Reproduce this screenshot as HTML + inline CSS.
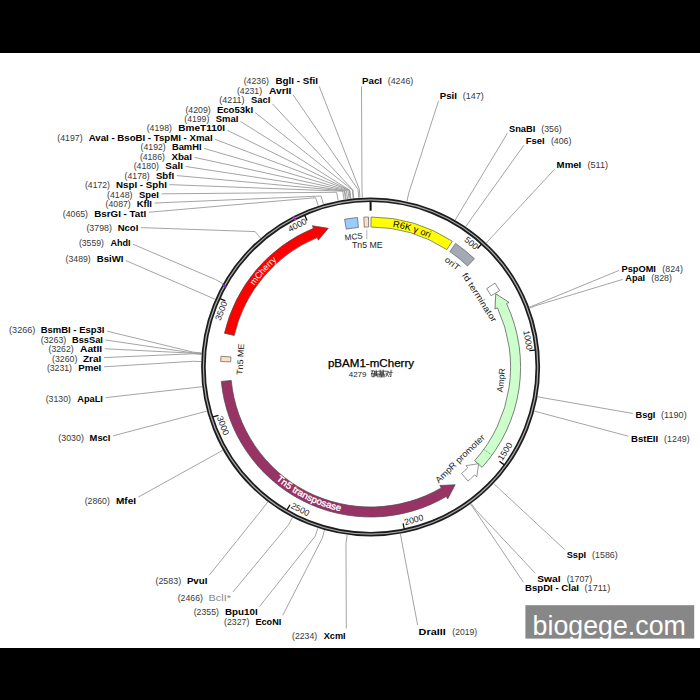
<!DOCTYPE html>
<html><head><meta charset="utf-8"><title>pBAM1-mCherry</title><style>html,body{margin:0;padding:0;background:#fff;}svg{display:block;}text{font-family:"Liberation Sans",sans-serif;}</style></head><body>
<svg width="700" height="700" viewBox="0 0 700 700" font-family="Liberation Sans, sans-serif">
<rect x="0" y="0" width="700" height="700" fill="#fff"/>
<path d="M319.21,86.29 L359.37,189.35 L359.90,197.74 M293.11,94.95 L358.06,189.44 L358.66,197.82 M272.35,103.79 L352.86,189.89 L353.69,198.24 M255.25,112.63 L352.34,189.94 L353.20,198.30 M240.58,121.47 L349.74,190.23 L350.72,198.57 M227.49,130.39 L349.48,190.26 L350.48,198.60 M215.06,139.35 L349.22,190.29 L350.23,198.63 M204.12,148.38 L347.92,190.45 L348.99,198.78 M194.55,157.36 L346.37,190.66 L347.51,198.98 M185.48,166.46 L344.82,190.88 L346.03,199.19 M176.79,175.58 L344.30,190.95 L345.54,199.26 M169.50,184.64 L342.75,191.19 L344.06,199.49 M161.50,193.84 L336.57,192.28 L338.18,200.53 M154.60,203.03 L321.08,196.03 L323.42,204.10 M148.89,212.25 L315.58,197.72 L318.18,205.70 M140.90,227.62 L255.08,231.58 L260.53,237.97 M133.03,244.22 L215.56,279.55 L222.88,283.68 M125.82,260.55 L207.41,295.92 L215.11,299.27 M107.04,331.13 L193.22,352.18 L201.59,352.88 M105.48,339.95 L193.15,352.97 L201.53,353.63 M104.80,348.73 L193.13,353.23 L201.51,353.88 M103.90,357.62 L193.09,353.75 L201.47,354.37 M103.90,366.80 L192.69,361.32 L201.09,361.58 M105.49,397.67 L193.80,387.67 L202.15,386.69 M112.93,435.86 L198.73,413.31 L206.84,411.13 M138.43,497.00 L215.50,454.33 L222.82,450.21 M209.22,575.29 L262.70,508.57 L267.80,501.89 M232.85,592.06 L288.49,524.93 L292.37,517.48 M259.51,606.57 L315.21,536.16 L317.82,528.18 M282.79,615.25 L322.21,538.30 L324.49,530.21 M346.31,628.60 L345.98,543.29 L347.14,534.97 M417.63,625.01 L401.93,542.22 L400.45,533.95 M361.50,86.60 L361.98,189.21 L362.39,197.60 M438.60,100.71 L408.72,193.13 L406.92,201.34 M507.39,133.25 L459.47,212.77 L455.27,220.05 M523.96,145.10 L470.54,219.71 L465.83,226.66 M554.67,169.12 L491.98,236.80 L486.25,242.94 M619.16,270.35 L537.14,304.15 L529.28,307.12 M622.79,279.36 L537.50,305.13 L529.63,308.05 M632.93,413.49 L545.83,398.27 L537.56,396.79 M628.47,436.24 L542.47,413.31 L534.36,411.13 M564.66,549.59 L499.86,489.38 L493.76,483.60 M535.36,573.30 L476.20,510.30 L471.21,503.53 M523.41,582.30 L475.35,510.91 L470.41,504.12" fill="none" stroke="#9a9a9a" stroke-width="0.9"/>
<circle cx="370.6" cy="367.0" r="167.2" fill="none" stroke="#1c1c1c" stroke-width="4.6"/>
<circle cx="370.6" cy="367.0" r="167.2" fill="none" stroke="#ababab" stroke-width="1.2"/>
<path d="M295.48,220.20 L293.39,216.11" stroke="#e010e0" stroke-width="1.6"/>
<path d="M226.38,287.05 L222.35,284.82" stroke="#7a28d8" stroke-width="1.6"/>
<path d="M370.60,201.70 L370.60,210.70" stroke="#111" stroke-width="2"/>
<path d="M481.35,244.29 L477.53,248.52 M535.03,350.10 L529.36,350.68 M503.99,464.62 L499.39,461.26 M404.22,528.84 L403.06,523.26 M287.13,509.68 L290.01,504.76 M213.04,416.99 L218.47,415.27 M220.14,298.55 L225.33,300.91 M304.76,215.38 L307.03,220.61" stroke="#111" stroke-width="1.3"/>
<text transform="translate(471.40,243.00) rotate(39.11)" x="0" y="3.13" font-size="8.7" fill="#222" text-anchor="middle" textLength="14.70" lengthAdjust="spacingAndGlyphs">500</text>
<text transform="translate(528.11,340.06) rotate(80.30)" x="0" y="3.13" font-size="8.7" fill="#222" text-anchor="middle" textLength="19.60" lengthAdjust="spacingAndGlyphs">1000</text>
<text transform="translate(504.88,451.40) rotate(-57.85)" x="0" y="3.13" font-size="8.7" fill="#222" text-anchor="middle" textLength="19.60" lengthAdjust="spacingAndGlyphs">1500</text>
<text transform="translate(413.74,519.62) rotate(-15.78)" x="0" y="3.13" font-size="8.7" fill="#222" text-anchor="middle" textLength="19.60" lengthAdjust="spacingAndGlyphs">2000</text>
<text transform="translate(300.37,509.20) rotate(26.28)" x="0" y="3.13" font-size="8.7" fill="#222" text-anchor="middle" textLength="19.60" lengthAdjust="spacingAndGlyphs">2500</text>
<text transform="translate(223.19,425.51) rotate(68.35)" x="0" y="3.13" font-size="8.7" fill="#222" text-anchor="middle" textLength="19.60" lengthAdjust="spacingAndGlyphs">3000</text>
<text transform="translate(221.04,310.71) rotate(290.62)" x="0" y="3.13" font-size="8.7" fill="#222" text-anchor="middle" textLength="19.60" lengthAdjust="spacingAndGlyphs">3500</text>
<text transform="translate(297.28,225.01) rotate(332.69)" x="0" y="3.13" font-size="8.7" fill="#222" text-anchor="middle" textLength="19.60" lengthAdjust="spacingAndGlyphs">4000</text>
<path d="M371.02,217.00 A150.00,150.00 0 0 1 452.30,241.20 L446.85,249.59 A140.00,140.00 0 0 0 370.99,227.00 Z" fill="#ffff00" stroke="#5a5a5a" stroke-width="0.7"/>
<path d="M455.56,243.38 A150.00,150.00 0 0 1 474.42,258.74 L467.50,265.95 A140.00,140.00 0 0 0 449.90,251.62 Z" fill="#a4aab3" stroke="#5a5a5a" stroke-width="0.7"/>
<path d="M494.96,283.12 A150.00,150.00 0 0 1 499.71,290.64 L491.10,295.73 A140.00,140.00 0 0 0 486.67,288.71 Z" fill="#ffffff" stroke="#5a5a5a" stroke-width="0.7"/>
<path d="M482.07,467.37 A150.00,150.00 0 0 0 506.55,303.61 L509.08,302.42 L495.79,293.84 L494.95,309.02 L497.48,307.83 A140.00,140.00 0 0 1 474.64,460.68 Z" fill="#ccffcc" stroke="#4a4a4a" stroke-width="0.7" stroke-linejoin="miter"/>
<path d="M484.35,449.64 L491.47,454.82" stroke="#555" stroke-width="0.7" stroke-dasharray="1,1"/>
<path d="M468.02,481.06 A150.00,150.00 0 0 0 474.80,474.90 L476.74,476.92 L478.69,463.65 L465.91,465.69 L467.85,467.71 A140.00,140.00 0 0 1 461.52,473.46 Z" fill="#ffffff" stroke="#6a6a6a" stroke-width="0.7" stroke-linejoin="miter"/>
<path d="M221.29,381.38 A150.00,150.00 0 0 0 446.28,496.51 L447.69,498.93 L455.21,484.75 L439.82,485.46 L441.23,487.88 A140.00,140.00 0 0 1 231.24,380.42 Z" fill="#993366" stroke="#4a4a4a" stroke-width="0.7" stroke-linejoin="miter"/>
<path d="M220.70,361.50 A150.00,150.00 0 0 1 220.98,356.28 L230.96,356.99 A140.00,140.00 0 0 0 230.69,361.87 Z" fill="#fde0c0" stroke="#5a5a5a" stroke-width="0.7"/>
<path d="M224.44,333.26 A150.00,150.00 0 0 1 313.44,228.32 L312.37,225.73 L328.30,228.31 L318.32,240.15 L317.25,237.56 A140.00,140.00 0 0 0 234.19,335.51 Z" fill="#ff0000" stroke="#4a4a4a" stroke-width="0.7" stroke-linejoin="miter"/>
<path d="M344.55,219.28 A150.00,150.00 0 0 1 357.53,217.57 L358.40,227.53 A140.00,140.00 0 0 0 346.29,229.13 Z" fill="#99ccff" stroke="#5a5a5a" stroke-width="0.7"/>
<path d="M363.80,217.15 A150.00,150.00 0 0 1 368.51,217.01 L368.65,227.01 A140.00,140.00 0 0 0 364.25,227.14 Z" fill="#fde0c0" stroke="#5a5a5a" stroke-width="0.7"/>
<path d="M366.8,229.6 L366.8,239.4" stroke="#b0b0b0" stroke-width="0.9"/>
<text transform="translate(353.65,236.50) rotate(-6.60)" x="0" y="2.99" font-size="8.3" fill="#222" text-anchor="middle" textLength="18.00" lengthAdjust="spacingAndGlyphs">MCS</text>
<text x="352.00" y="248.20" font-size="8.3" fill="#222" text-anchor="start" textLength="30.60" lengthAdjust="spacingAndGlyphs">Tn5 ME</text>
<text transform="translate(452.41,263.41) rotate(38.30)" x="0" y="3.10" font-size="8.6" fill="#222" text-anchor="middle" textLength="16.80" lengthAdjust="spacingAndGlyphs">oriT</text>
<text transform="translate(479.61,297.28) rotate(57.40)" x="0" y="3.10" font-size="8.6" fill="#222" text-anchor="middle" textLength="56.50" lengthAdjust="spacingAndGlyphs">fd terminator</text>
<text transform="translate(500.93,380.24) rotate(-84.20)" x="0" y="3.10" font-size="8.6" fill="#222" text-anchor="middle" textLength="24.00" lengthAdjust="spacingAndGlyphs">AmpR</text>
<text transform="translate(459.86,458.47) rotate(-44.30)" x="0" y="3.17" font-size="8.8" fill="#222" text-anchor="middle" textLength="65.00" lengthAdjust="spacingAndGlyphs">AmpR promoter</text>
<text transform="translate(240.23,359.25) rotate(-86.60)" x="0" y="2.99" font-size="8.3" fill="#222" text-anchor="middle" textLength="31.00" lengthAdjust="spacingAndGlyphs">Tn5 ME</text>
<path id="p36" d="M377.83,225.38 A141.80,141.80 0 0 1 442.52,244.79" fill="none"/>
<text font-size="9" fill="#000"><textPath href="#p36" startOffset="50%" text-anchor="middle" textLength="38.5" lengthAdjust="spacingAndGlyphs">R6K γ ori</textPath></text>
<path id="p38" d="M246.50,298.40 A141.80,141.80 0 0 1 288.60,251.32" fill="none"/>
<text font-size="9" fill="#fff"><textPath href="#p38" startOffset="50%" text-anchor="middle" textLength="34.0" lengthAdjust="spacingAndGlyphs">mCherry</textPath></text>
<path id="p40" d="M264.70,469.24 A147.20,147.20 0 0 0 355.75,513.45" fill="none"/>
<text font-size="9.4" fill="#fff" stroke="#fff" stroke-width="0.3"><textPath href="#p40" startOffset="50%" text-anchor="middle" textLength="72.5" lengthAdjust="spacingAndGlyphs">Tn5 transposase</textPath></text>
<text x="243.70" y="84.30" font-size="8.2" fill="#383838" text-anchor="start" textLength="25.20" lengthAdjust="spacingAndGlyphs">(4236)</text>
<text x="275.50" y="84.30" font-size="8.6" font-weight="bold" fill="#000" text-anchor="start" textLength="42.40" lengthAdjust="spacingAndGlyphs">BglI - SfiI</text>
<text x="236.90" y="93.60" font-size="8.2" fill="#383838" text-anchor="start" textLength="25.20" lengthAdjust="spacingAndGlyphs">(4231)</text>
<text x="268.90" y="93.60" font-size="8.6" font-weight="bold" fill="#000" text-anchor="start" textLength="22.50" lengthAdjust="spacingAndGlyphs">AvrII</text>
<text x="219.30" y="103.00" font-size="8.2" fill="#383838" text-anchor="start" textLength="25.30" lengthAdjust="spacingAndGlyphs">(4211)</text>
<text x="251.00" y="103.00" font-size="8.6" font-weight="bold" fill="#000" text-anchor="start" textLength="19.40" lengthAdjust="spacingAndGlyphs">SacI</text>
<text x="185.40" y="112.50" font-size="8.2" fill="#383838" text-anchor="start" textLength="25.30" lengthAdjust="spacingAndGlyphs">(4209)</text>
<text x="216.90" y="112.50" font-size="8.6" font-weight="bold" fill="#000" text-anchor="start" textLength="36.20" lengthAdjust="spacingAndGlyphs">Eco53kI</text>
<text x="184.30" y="121.90" font-size="8.2" fill="#383838" text-anchor="start" textLength="25.00" lengthAdjust="spacingAndGlyphs">(4199)</text>
<text x="215.70" y="121.90" font-size="8.6" font-weight="bold" fill="#000" text-anchor="start" textLength="22.60" lengthAdjust="spacingAndGlyphs">SmaI</text>
<text x="146.70" y="131.40" font-size="8.2" fill="#383838" text-anchor="start" textLength="25.20" lengthAdjust="spacingAndGlyphs">(4198)</text>
<text x="178.30" y="131.40" font-size="8.6" font-weight="bold" fill="#000" text-anchor="start" textLength="46.80" lengthAdjust="spacingAndGlyphs">BmeT110I</text>
<text x="57.30" y="140.90" font-size="8.2" fill="#383838" text-anchor="start" textLength="25.30" lengthAdjust="spacingAndGlyphs">(4197)</text>
<text x="88.70" y="140.90" font-size="8.6" font-weight="bold" fill="#000" text-anchor="start" textLength="123.90" lengthAdjust="spacingAndGlyphs">AvaI - BsoBI - TspMI - XmaI</text>
<text x="140.60" y="150.40" font-size="8.2" fill="#383838" text-anchor="start" textLength="25.10" lengthAdjust="spacingAndGlyphs">(4192)</text>
<text x="171.90" y="150.40" font-size="8.6" font-weight="bold" fill="#000" text-anchor="start" textLength="29.70" lengthAdjust="spacingAndGlyphs">BamHI</text>
<text x="139.90" y="159.80" font-size="8.2" fill="#383838" text-anchor="start" textLength="24.90" lengthAdjust="spacingAndGlyphs">(4186)</text>
<text x="171.40" y="159.80" font-size="8.6" font-weight="bold" fill="#000" text-anchor="start" textLength="20.60" lengthAdjust="spacingAndGlyphs">XbaI</text>
<text x="133.70" y="169.30" font-size="8.2" fill="#383838" text-anchor="start" textLength="25.20" lengthAdjust="spacingAndGlyphs">(4180)</text>
<text x="165.30" y="169.30" font-size="8.6" font-weight="bold" fill="#000" text-anchor="start" textLength="17.60" lengthAdjust="spacingAndGlyphs">SalI</text>
<text x="124.60" y="178.80" font-size="8.2" fill="#383838" text-anchor="start" textLength="25.10" lengthAdjust="spacingAndGlyphs">(4178)</text>
<text x="155.90" y="178.80" font-size="8.6" font-weight="bold" fill="#000" text-anchor="start" textLength="18.30" lengthAdjust="spacingAndGlyphs">SbfI</text>
<text x="85.00" y="188.20" font-size="8.2" fill="#383838" text-anchor="start" textLength="24.90" lengthAdjust="spacingAndGlyphs">(4172)</text>
<text x="116.10" y="188.20" font-size="8.6" font-weight="bold" fill="#000" text-anchor="start" textLength="50.80" lengthAdjust="spacingAndGlyphs">NspI - SphI</text>
<text x="107.00" y="197.70" font-size="8.2" fill="#383838" text-anchor="start" textLength="25.50" lengthAdjust="spacingAndGlyphs">(4148)</text>
<text x="139.00" y="197.70" font-size="8.6" font-weight="bold" fill="#000" text-anchor="start" textLength="19.90" lengthAdjust="spacingAndGlyphs">SpeI</text>
<text x="105.60" y="207.10" font-size="8.2" fill="#383838" text-anchor="start" textLength="25.10" lengthAdjust="spacingAndGlyphs">(4087)</text>
<text x="136.70" y="207.10" font-size="8.6" font-weight="bold" fill="#000" text-anchor="start" textLength="15.30" lengthAdjust="spacingAndGlyphs">KflI</text>
<text x="62.80" y="216.60" font-size="8.2" fill="#383838" text-anchor="start" textLength="25.20" lengthAdjust="spacingAndGlyphs">(4065)</text>
<text x="94.20" y="216.60" font-size="8.6" font-weight="bold" fill="#000" text-anchor="start" textLength="52.10" lengthAdjust="spacingAndGlyphs">BsrGI - TatI</text>
<text x="86.40" y="231.20" font-size="8.2" fill="#383838" text-anchor="start" textLength="25.50" lengthAdjust="spacingAndGlyphs">(3798)</text>
<text x="117.70" y="231.20" font-size="8.6" font-weight="bold" fill="#000" text-anchor="start" textLength="20.60" lengthAdjust="spacingAndGlyphs">NcoI</text>
<text x="78.90" y="245.50" font-size="8.2" fill="#383838" text-anchor="start" textLength="25.10" lengthAdjust="spacingAndGlyphs">(3559)</text>
<text x="110.40" y="245.50" font-size="8.6" font-weight="bold" fill="#000" text-anchor="start" textLength="20.20" lengthAdjust="spacingAndGlyphs">AhdI</text>
<text x="65.60" y="261.80" font-size="8.2" fill="#383838" text-anchor="start" textLength="25.10" lengthAdjust="spacingAndGlyphs">(3489)</text>
<text x="96.70" y="261.80" font-size="8.6" font-weight="bold" fill="#000" text-anchor="start" textLength="26.70" lengthAdjust="spacingAndGlyphs">BsiWI</text>
<text x="9.10" y="333.40" font-size="8.2" fill="#383838" text-anchor="start" textLength="26.30" lengthAdjust="spacingAndGlyphs">(3266)</text>
<text x="40.70" y="333.40" font-size="8.6" font-weight="bold" fill="#000" text-anchor="start" textLength="63.80" lengthAdjust="spacingAndGlyphs">BsmBI - Esp3I</text>
<text x="40.70" y="342.80" font-size="8.2" fill="#383838" text-anchor="start" textLength="25.60" lengthAdjust="spacingAndGlyphs">(3263)</text>
<text x="72.00" y="342.80" font-size="8.6" font-weight="bold" fill="#000" text-anchor="start" textLength="30.90" lengthAdjust="spacingAndGlyphs">BssSaI</text>
<text x="48.50" y="352.20" font-size="8.2" fill="#383838" text-anchor="start" textLength="25.10" lengthAdjust="spacingAndGlyphs">(3262)</text>
<text x="80.00" y="352.20" font-size="8.6" font-weight="bold" fill="#000" text-anchor="start" textLength="22.20" lengthAdjust="spacingAndGlyphs">AatII</text>
<text x="52.10" y="361.70" font-size="8.2" fill="#383838" text-anchor="start" textLength="25.20" lengthAdjust="spacingAndGlyphs">(3260)</text>
<text x="83.00" y="361.70" font-size="8.6" font-weight="bold" fill="#000" text-anchor="start" textLength="18.30" lengthAdjust="spacingAndGlyphs">ZraI</text>
<text x="46.90" y="371.00" font-size="8.2" fill="#383838" text-anchor="start" textLength="25.10" lengthAdjust="spacingAndGlyphs">(3231)</text>
<text x="78.20" y="371.00" font-size="8.6" font-weight="bold" fill="#000" text-anchor="start" textLength="23.10" lengthAdjust="spacingAndGlyphs">PmeI</text>
<text x="45.70" y="402.20" font-size="8.2" fill="#383838" text-anchor="start" textLength="25.20" lengthAdjust="spacingAndGlyphs">(3130)</text>
<text x="77.30" y="402.20" font-size="8.6" font-weight="bold" fill="#000" text-anchor="start" textLength="25.60" lengthAdjust="spacingAndGlyphs">ApaLI</text>
<text x="58.30" y="441.30" font-size="8.2" fill="#383838" text-anchor="start" textLength="25.60" lengthAdjust="spacingAndGlyphs">(3030)</text>
<text x="89.60" y="441.30" font-size="8.6" font-weight="bold" fill="#000" text-anchor="start" textLength="20.80" lengthAdjust="spacingAndGlyphs">MscI</text>
<text x="84.70" y="503.90" font-size="8.2" fill="#383838" text-anchor="start" textLength="25.10" lengthAdjust="spacingAndGlyphs">(2860)</text>
<text x="116.00" y="503.90" font-size="8.6" font-weight="bold" fill="#000" text-anchor="start" textLength="20.10" lengthAdjust="spacingAndGlyphs">MfeI</text>
<text x="155.50" y="584.00" font-size="8.2" fill="#383838" text-anchor="start" textLength="25.60" lengthAdjust="spacingAndGlyphs">(2583)</text>
<text x="186.90" y="584.00" font-size="8.6" font-weight="bold" fill="#000" text-anchor="start" textLength="20.50" lengthAdjust="spacingAndGlyphs">PvuI</text>
<text x="177.70" y="600.70" font-size="8.2" fill="#383838" text-anchor="start" textLength="25.20" lengthAdjust="spacingAndGlyphs">(2466)</text>
<text x="208.60" y="600.70" font-size="8.6" fill="#888" text-anchor="start" textLength="22.40" lengthAdjust="spacingAndGlyphs">BclI*</text>
<text x="193.70" y="615.30" font-size="8.2" fill="#383838" text-anchor="start" textLength="25.20" lengthAdjust="spacingAndGlyphs">(2355)</text>
<text x="225.00" y="615.30" font-size="8.6" font-weight="bold" fill="#000" text-anchor="start" textLength="32.70" lengthAdjust="spacingAndGlyphs">Bpu10I</text>
<text x="224.10" y="624.60" font-size="8.2" fill="#383838" text-anchor="start" textLength="25.20" lengthAdjust="spacingAndGlyphs">(2327)</text>
<text x="255.40" y="624.60" font-size="8.6" font-weight="bold" fill="#000" text-anchor="start" textLength="25.90" lengthAdjust="spacingAndGlyphs">EcoNI</text>
<text x="292.00" y="638.60" font-size="8.2" fill="#383838" text-anchor="start" textLength="25.10" lengthAdjust="spacingAndGlyphs">(2234)</text>
<text x="323.70" y="638.60" font-size="8.6" font-weight="bold" fill="#000" text-anchor="start" textLength="22.00" lengthAdjust="spacingAndGlyphs">XcmI</text>
<text x="418.60" y="634.90" font-size="8.6" font-weight="bold" fill="#000" text-anchor="start" textLength="27.10" lengthAdjust="spacingAndGlyphs">DraIII</text>
<text x="452.30" y="634.90" font-size="8.2" fill="#383838" text-anchor="start" textLength="24.80" lengthAdjust="spacingAndGlyphs">(2019)</text>
<text x="362.10" y="84.20" font-size="8.6" font-weight="bold" fill="#000" text-anchor="start" textLength="19.90" lengthAdjust="spacingAndGlyphs">PacI</text>
<text x="387.70" y="84.20" font-size="8.2" fill="#383838" text-anchor="start" textLength="25.60" lengthAdjust="spacingAndGlyphs">(4246)</text>
<text x="439.80" y="98.60" font-size="8.6" font-weight="bold" fill="#000" text-anchor="start" textLength="17.20" lengthAdjust="spacingAndGlyphs">PsiI</text>
<text x="462.70" y="98.60" font-size="8.2" fill="#383838" text-anchor="start" textLength="21.00" lengthAdjust="spacingAndGlyphs">(147)</text>
<text x="509.00" y="131.70" font-size="8.6" font-weight="bold" fill="#000" text-anchor="start" textLength="26.30" lengthAdjust="spacingAndGlyphs">SnaBI</text>
<text x="541.30" y="131.70" font-size="8.2" fill="#383838" text-anchor="start" textLength="20.50" lengthAdjust="spacingAndGlyphs">(356)</text>
<text x="525.70" y="143.80" font-size="8.6" font-weight="bold" fill="#000" text-anchor="start" textLength="19.00" lengthAdjust="spacingAndGlyphs">FseI</text>
<text x="550.90" y="143.80" font-size="8.2" fill="#383838" text-anchor="start" textLength="20.50" lengthAdjust="spacingAndGlyphs">(406)</text>
<text x="556.60" y="168.30" font-size="8.6" font-weight="bold" fill="#000" text-anchor="start" textLength="24.70" lengthAdjust="spacingAndGlyphs">MmeI</text>
<text x="587.40" y="168.30" font-size="8.2" fill="#383838" text-anchor="start" textLength="20.60" lengthAdjust="spacingAndGlyphs">(511)</text>
<text x="621.60" y="271.70" font-size="8.6" font-weight="bold" fill="#000" text-anchor="start" textLength="34.30" lengthAdjust="spacingAndGlyphs">PspOMI</text>
<text x="662.30" y="271.70" font-size="8.2" fill="#383838" text-anchor="start" textLength="20.60" lengthAdjust="spacingAndGlyphs">(824)</text>
<text x="625.30" y="281.30" font-size="8.6" font-weight="bold" fill="#000" text-anchor="start" textLength="19.80" lengthAdjust="spacingAndGlyphs">ApaI</text>
<text x="651.30" y="281.30" font-size="8.2" fill="#383838" text-anchor="start" textLength="20.60" lengthAdjust="spacingAndGlyphs">(828)</text>
<text x="635.50" y="418.40" font-size="8.6" font-weight="bold" fill="#000" text-anchor="start" textLength="19.90" lengthAdjust="spacingAndGlyphs">BsgI</text>
<text x="661.10" y="418.40" font-size="8.2" fill="#383838" text-anchor="start" textLength="25.60" lengthAdjust="spacingAndGlyphs">(1190)</text>
<text x="631.00" y="441.70" font-size="8.6" font-weight="bold" fill="#000" text-anchor="start" textLength="27.20" lengthAdjust="spacingAndGlyphs">BstEII</text>
<text x="664.10" y="441.70" font-size="8.2" fill="#383838" text-anchor="start" textLength="25.60" lengthAdjust="spacingAndGlyphs">(1249)</text>
<text x="566.70" y="557.70" font-size="8.6" font-weight="bold" fill="#000" text-anchor="start" textLength="19.50" lengthAdjust="spacingAndGlyphs">SspI</text>
<text x="592.10" y="557.70" font-size="8.2" fill="#383838" text-anchor="start" textLength="25.60" lengthAdjust="spacingAndGlyphs">(1586)</text>
<text x="537.30" y="581.70" font-size="8.6" font-weight="bold" fill="#000" text-anchor="start" textLength="23.30" lengthAdjust="spacingAndGlyphs">SwaI</text>
<text x="566.70" y="581.70" font-size="8.2" fill="#383838" text-anchor="start" textLength="25.40" lengthAdjust="spacingAndGlyphs">(1707)</text>
<text x="525.10" y="591.30" font-size="8.6" font-weight="bold" fill="#000" text-anchor="start" textLength="53.80" lengthAdjust="spacingAndGlyphs">BspDI - ClaI</text>
<text x="584.60" y="591.30" font-size="8.2" fill="#383838" text-anchor="start" textLength="25.60" lengthAdjust="spacingAndGlyphs">(1711)</text>
<text x="327.90" y="366.90" font-size="10" fill="#000" text-anchor="start" textLength="86.20" lengthAdjust="spacingAndGlyphs" stroke="#000" stroke-width="0.25">pBAM1-mCherry</text>
<text x="348.70" y="376.70" font-size="7.8" fill="#222" text-anchor="start" textLength="17.80" lengthAdjust="spacingAndGlyphs">4279</text>
<path d="M371.20,370.88 L373.97,370.88 M372.65,370.88 L371.53,373.94 M371.86,373.60 L373.84,373.60 L373.84,376.66 L371.86,376.66 L371.86,373.60 M374.50,371.70 L377.80,371.70 M374.63,371.70 L374.50,374.96 L373.97,376.86 M375.16,372.92 L376.48,372.92 M375.16,373.94 L376.35,373.94 L376.35,375.64 L375.16,375.64 L375.16,373.94 M376.22,370.34 L376.61,374.28 L377.80,376.86 M377.80,373.60 L376.48,375.98 M380.18,370.20 L380.18,374.14 M383.22,370.20 L383.22,374.14 M378.73,371.15 L384.67,371.15 M380.18,372.31 L383.22,372.31 M380.18,373.26 L383.22,373.26 M378.40,374.28 L385.00,374.28 M380.38,374.42 L378.93,375.37 M383.02,374.42 L384.47,375.37 M381.70,374.69 L381.70,376.73 M380.05,375.64 L383.35,375.64 M378.93,376.80 L384.47,376.80 M385.60,371.29 L388.37,371.29 L385.93,376.46 M386.39,373.06 L388.57,376.46 M388.57,372.38 L392.20,372.38 M391.01,370.20 L391.01,376.66 L390.22,376.46 M389.30,373.74 L389.96,374.82" stroke="#2a2a2a" stroke-width="0.75" fill="none" stroke-linecap="square"/>
<rect x="0" y="0" width="700" height="53" fill="#000"/>
<rect x="0" y="648" width="700" height="52" fill="#000"/>
<rect x="525.4" y="605.2" width="168.8" height="33.4" fill="#878787"/>
<text x="532.6" y="634.8" font-size="27.2" fill="#fff" textLength="153.3" lengthAdjust="spacingAndGlyphs">biogege.com</text>
</svg>
</body></html>
